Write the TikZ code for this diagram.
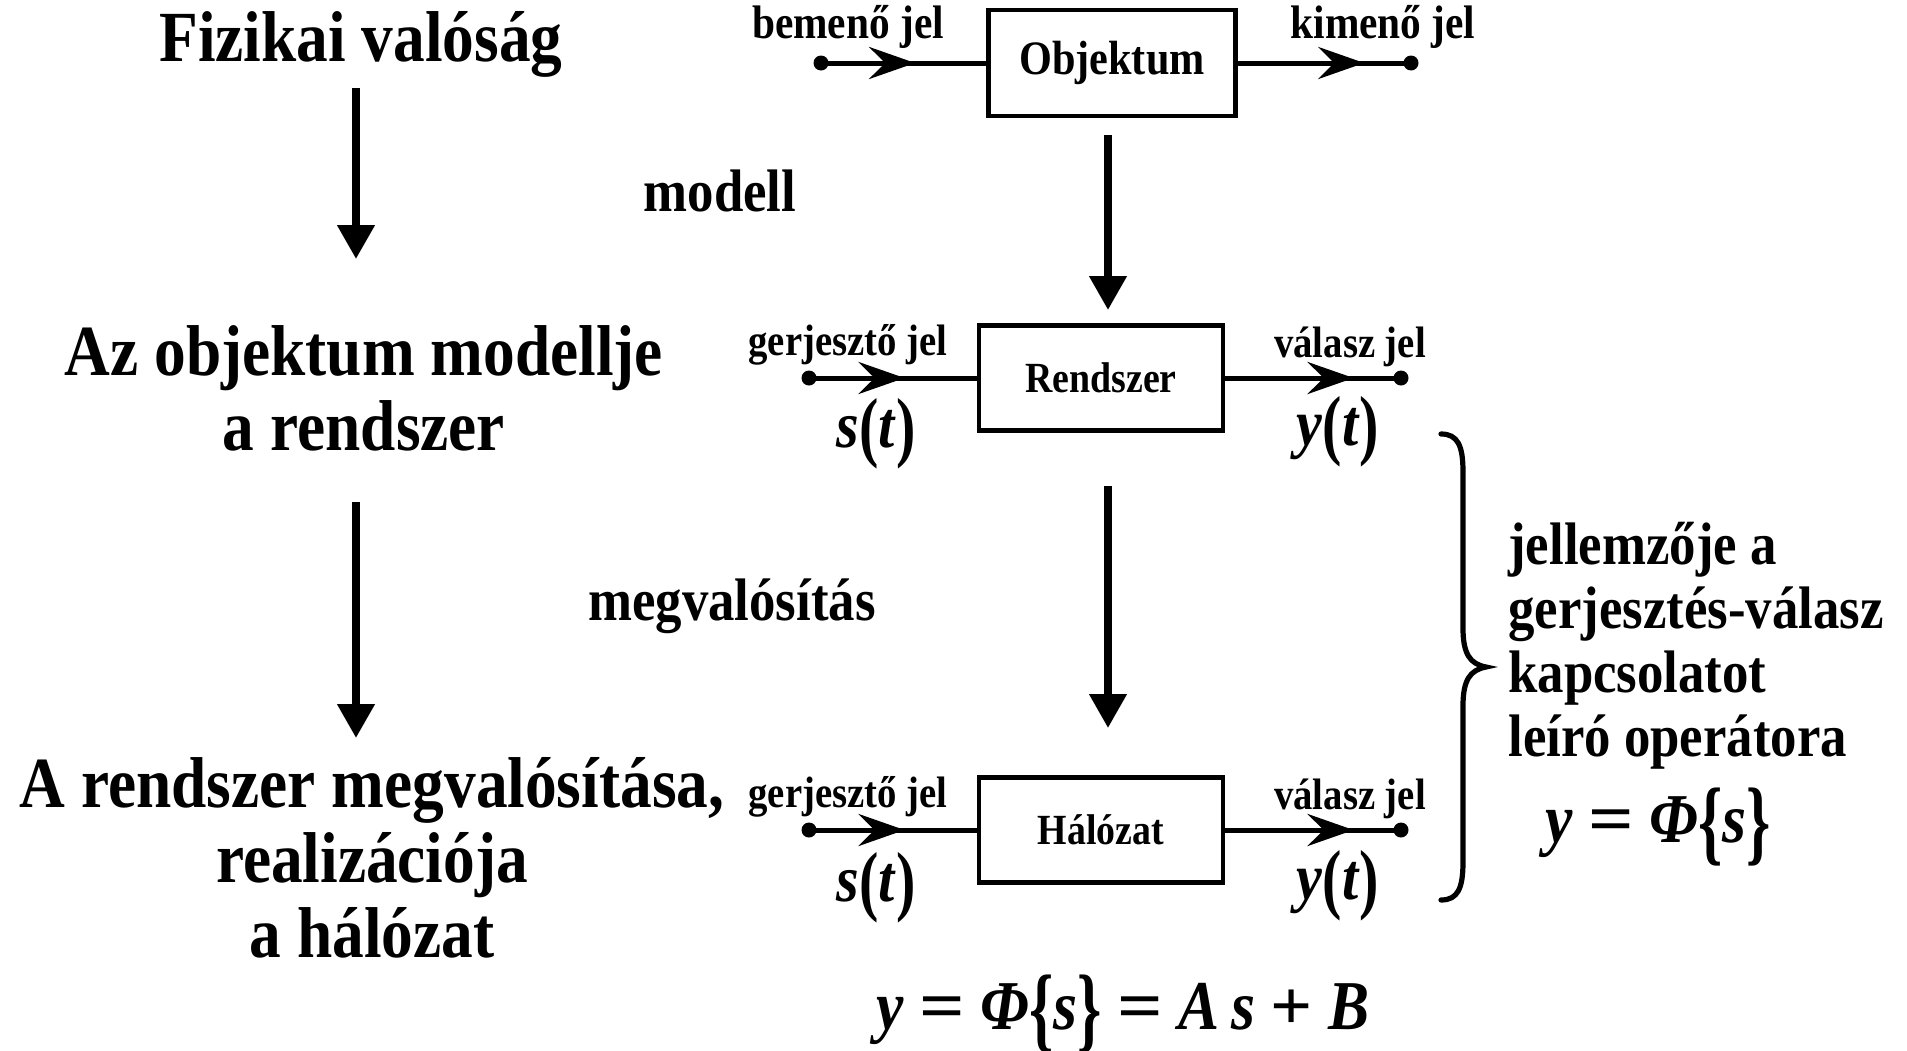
\documentclass[tikz,border=0pt]{standalone}
\usepackage{fontspec}
\setmainfont{Liberation Serif}[FakeStretch=0.88]
\usepackage{graphicx}
\usetikzlibrary{arrows.meta,positioning,decorations.markings}

% variables, wide operators and tall delimiters
\newcommand{\vv}[1]{\textit{#1}}
\newcommand{\weq}{\scalebox{1.3}[1]{=}}
\newcommand{\wplus}{\scalebox{1.2}[1]{+}}
\newcommand{\tpar}[1]{\raisebox{-0.08em}{\scalebox{1}[1.18]{#1}}}
\newcommand{\tbrc}[1]{\raisebox{-0.15em}{\scalebox{1}[1.35]{#1}}}

\begin{document}
\begin{tikzpicture}[
  x=0.5pt,y=-0.5pt,
  title/.style={font=\fontsize{36}{37.5}\selectfont\bfseries,align=center,inner sep=0pt},
  note/.style={font=\fontsize{30}{32}\selectfont\bfseries,align=left,inner sep=0pt},
  lbl/.style={font=\fontsize{22}{26}\selectfont\bfseries,inner sep=0pt},
  blk/.style={draw,line width=2.4pt,minimum width=122pt,minimum height=52.5pt,
              font=\fontsize{21.5}{26}\selectfont\bfseries},
  eqn/.style={font=\fontsize{35}{42}\selectfont\bfseries,inner sep=0pt},
  sig/.style={font=\fontsize{33}{38}\selectfont\bfseries,inner sep=0pt},
  dot/.style={circle,fill,inner sep=0pt,minimum size=7.5pt},
  down/.style={line width=3.8pt,-{Triangle[length=17pt,width=18pt]}},
  wire/.style={line width=2.5pt,postaction={decorate},
               decoration={markings,mark=at position #1 with
               {\arrow{Stealth[length=23pt,width=16pt,inset=8pt]}}}},
  wire/.default=0.57
]
\useasboundingbox (0,0) rectangle (1907,1050);

% left column
\node[title] (phys) at (361,44) {Fizikai valóság};
\node[title] (model) at (364,388) {Az objektum modellje\\a rendszer};
\node[title] (real) at (372,858) {A rendszer megvalósítása,\\realizációja\\a hálózat};
\coordinate (l1a) at (356,88);
\coordinate (l1b) at (356,259);
\coordinate (l2a) at (356,502);
\coordinate (l2b) at (356,738);
\draw[down] (l1a) -- (l1b);
\draw[down] (l2a) -- (l2b);

% object row
\node[blk,minimum width=123.5pt,minimum height=53pt,font=\fontsize{24}{28}\selectfont\bfseries]
  (obj) at (1112,63) {Objektum};
\node[dot] (bin) at (821,63) {};
\node[dot] (kout) at (1411,63) {};
\draw[wire] (bin.center) -- (obj.west);
\draw[wire=0.73] (obj.east) -- (kout.center);
\node[lbl,font=\fontsize{23.5}{28}\selectfont\bfseries] (binl) at (848,27) {bemenő jel};
\node[lbl,font=\fontsize{23.5}{28}\selectfont\bfseries] (koutl) at (1383,27) {kimenő jel};

% system row
\node[blk] (rsz) at (1101,378) {Rendszer};
\node[dot] (rin) at (809,378) {};
\node[dot] (rout) at (1401,378) {};
\draw[wire] (rin.center) -- (rsz.west);
\draw[wire=0.73] (rsz.east) -- (rout.center);
\node[lbl] (rinl) at (848,345) {gerjesztő jel};
\node[lbl] (routl) at (1350,347) {válasz jel};
\node[sig] (rs) at (876,434) {\vv{s}\tpar{(}\vv{t}\tpar{)}};
\node[sig] (ry) at (1338,432) {\vv{y}\tpar{(}\vv{t}\tpar{)}};

% network row
\node[blk] (hal) at (1101,830) {Hálózat};
\node[dot] (hin) at (809,830) {};
\node[dot] (hout) at (1401,830) {};
\draw[wire] (hin.center) -- (hal.west);
\draw[wire=0.73] (hal.east) -- (hout.center);
\node[lbl] (hinl) at (848,797) {gerjesztő jel};
\node[lbl] (houtl) at (1350,799) {válasz jel};
\node[sig] (hs) at (876,888) {\vv{s}\tpar{(}\vv{t}\tpar{)}};
\node[sig] (hy) at (1338,886) {\vv{y}\tpar{(}\vv{t}\tpar{)}};

% middle arrows
\coordinate (m1a) at (1108,135);
\coordinate (m1b) at (1108,310);
\coordinate (m2a) at (1108,486);
\coordinate (m2b) at (1108,728);
\draw[down] (m1a) -- (m1b);
\draw[down] (m2a) -- (m2b);
\node[note] (modl) at (720,191) {modell};
\node[note] (megv) at (732,606) {megvalósítás};

% brace and operator
\draw[line width=2.6pt,line cap=round]
  (1441,434) .. controls (1458,434) and (1463,446) .. (1463,472) -- (1463,628)
  .. controls (1463,654) and (1470,664) .. (1486,667)
  .. controls (1470,670) and (1463,680) .. (1463,706) -- (1463,862)
  .. controls (1463,888) and (1458,900) .. (1441,900);
\node[note,anchor=west] (oper) at (1508,646)
  {jellemzője a\\gerjesztés-válasz\\kapcsolatot\\leíró operátora};
\node[eqn] (opeq) at (1658,827) {\vv{y} \weq{} \vv{Φ}\tbrc{\{}\vv{s}\tbrc{\}}};
\node[eqn] (fulleq) at (1123,1014)
  {\vv{y} \weq{} \vv{Φ}\tbrc{\{}\vv{s}\tbrc{\}} \weq{} \vv{A}\,\vv{s} \wplus{} \vv{B}};
\end{tikzpicture}
\end{document}
